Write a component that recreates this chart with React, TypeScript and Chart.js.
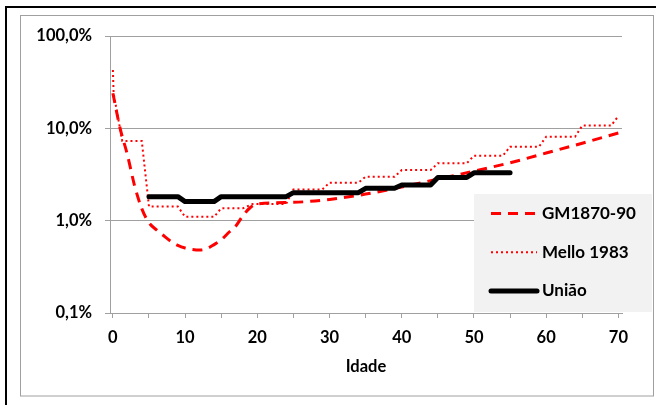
import React, { useEffect, useRef } from "react";
import { Chart, registerables } from "chart.js";

Chart.register(...registerables);

// ---- data (mortality rate, %) ----
const seriesLabels = ["GM1870-90", "Mello 1983", "União"];

const gmAges = [0, 1, 2, 3, 4, 5, 6, 7, 8, 9, 10, 11, 12, 13, 14, 15, 16, 17, 18, 19, 20, 25, 30, 35, 40, 45, 50, 55, 60, 65, 70];
const gmRates = [24.0, 10.0, 5.2, 2.4, 1.35, 0.95, 0.8, 0.69, 0.6, 0.54, 0.505, 0.487, 0.48, 0.497, 0.55, 0.62, 0.74, 0.87, 1.13, 1.38, 1.52, 1.58, 1.70, 1.94, 2.32, 2.82, 3.44, 4.24, 5.4, 6.9, 8.9];

const melloAges = [0, 0.1, 1.3, 4, 5, 9, 10, 14, 15, 18, 19.4, 24, 25, 29, 30, 34, 35, 39, 40, 44, 45, 49, 50, 54, 55, 59, 60, 64, 65, 69, 70];
const melloRates = [42.9, 24.0, 7.3, 7.3, 1.42, 1.42, 1.10, 1.10, 1.36, 1.36, 1.52, 1.52, 2.18, 2.18, 2.58, 2.58, 2.99, 2.99, 3.53, 3.53, 4.18, 4.18, 5.05, 5.05, 6.32, 6.32, 8.11, 8.11, 10.7, 10.7, 13.6];

const uniaoAges = [5, 9, 10, 14, 15, 24, 25, 34, 35, 39, 40, 44, 45, 49, 50, 55];
const uniaoRates = [1.82, 1.82, 1.61, 1.61, 1.82, 1.82, 2.01, 2.01, 2.24, 2.24, 2.43, 2.43, 2.94, 2.94, 3.30, 3.30];

const yTickValues = [0.1, 1, 10, 100];
const xTickValues = [0, 5, 10, 15, 20, 25, 30, 35, 40, 45, 50, 55, 60, 65, 70];
const xAxisTitle = "Idade";

const toPoints = (xs: number[], ys: number[]) => xs.map((x, i) => ({ x, y: ys[i] }));
const fmtPct = (v: number) => v.toFixed(1).replace(".", ",") + "%";

const FONT_FAMILY = "Lato";
const AXIS_GRAY = "#a0a0a0";

const framePlugin = {
  id: "frame",
  beforeDraw(chart: any) {
    const ctx = chart.ctx;
    ctx.save();
    ctx.fillStyle = "#ffffff";
    ctx.fillRect(0, 0, chart.width, chart.height);
    ctx.fillStyle = "#000000";
    ctx.fillRect(5, 6, chart.width - 5, 2);
    ctx.fillRect(5, 6, 2, chart.height - 6);
    ctx.strokeStyle = AXIS_GRAY;
    ctx.lineWidth = 1;
    ctx.strokeRect(20.5, 15.5, 633, 380.5);
    ctx.restore();
  },
};

const legendPlugin = {
  id: "boxLegend",
  afterDraw(chart: any) {
    const ctx = chart.ctx;
    ctx.save();
    ctx.fillStyle = "#f2f2f2";
    ctx.fillRect(474, 194, 178, 118);
    chart.data.datasets.forEach((ds: any, i: number) => {
      const y = 213.5 + i * 38.7;
      ctx.strokeStyle = ds.borderColor;
      ctx.lineWidth = ds.borderWidth;
      ctx.setLineDash(ds.borderDash || []);
      ctx.lineCap = ds.borderCapStyle || "butt";
      ctx.beginPath();
      ctx.moveTo(491, y);
      ctx.lineTo(537, y);
      ctx.stroke();
      ctx.setLineDash([]);
      ctx.fillStyle = "#000000";
      ctx.font = `bold 17px ${FONT_FAMILY}`;
      ctx.textBaseline = "middle";
      ctx.textAlign = "left";
      ctx.fillText(ds.label, 542, y);
    });
    ctx.restore();
  },
};

export default function App() {
  const canvasRef = useRef<HTMLCanvasElement | null>(null);

  useEffect(() => {
    if (!canvasRef.current) return;
    const font = { family: FONT_FAMILY, size: 16.5, weight: "bold" as const };
    const chart = new Chart(canvasRef.current, {
      type: "line",
      data: {
        datasets: [
          {
            label: seriesLabels[0],
            data: toPoints(gmAges, gmRates),
            borderColor: "#ff0000",
            borderWidth: 3,
            borderDash: [10, 7],
            pointRadius: 0,
            cubicInterpolationMode: "monotone",
            order: 3,
          },
          {
            label: seriesLabels[1],
            data: toPoints(melloAges, melloRates),
            borderColor: "#ff0000",
            borderWidth: 2,
            borderDash: [2, 3],
            pointRadius: 0,
            tension: 0,
            order: 2,
          },
          {
            label: seriesLabels[2],
            data: toPoints(uniaoAges, uniaoRates),
            borderColor: "#000000",
            borderWidth: 5,
            borderCapStyle: "round",
            borderJoinStyle: "round",
            pointRadius: 0,
            tension: 0,
            order: 1,
          },
        ] as any,
      },
      options: {
        responsive: false,
        devicePixelRatio: 1,
        animation: false,
        layout: { padding: { left: 0, top: 36, right: 34, bottom: 0 } },
        plugins: { legend: { display: false }, tooltip: { enabled: false } },
        scales: {
          x: {
            type: "linear",
            min: -0.4,
            max: 70.5,
            afterBuildTicks: (s: any) => {
              s.ticks = xTickValues.map((v) => ({ value: v }));
            },
            afterFit: (s: any) => {
              s.height = 92;
            },
            grid: { drawOnChartArea: false, color: AXIS_GRAY, tickLength: 5 },
            border: { color: AXIS_GRAY },
            ticks: {
              autoSkip: false,
              maxRotation: 0,
              padding: 10,
              color: "#000000",
              font,
              callback: (v: any) => (Number(v) % 10 === 0 ? String(v) : ""),
            },
            title: {
              display: true,
              text: xAxisTitle,
              color: "#000000",
              font,
              padding: { top: 4, bottom: 28 },
            },
          },
          y: {
            type: "logarithmic",
            min: 0.1,
            max: 100,
            afterBuildTicks: (s: any) => {
              s.ticks = yTickValues.map((v) => ({ value: v }));
            },
            afterFit: (s: any) => {
              s.width = 110;
            },
            grid: { color: AXIS_GRAY, tickLength: 5 },
            border: { color: AXIS_GRAY },
            ticks: {
              padding: 13,
              color: "#000000",
              font,
              callback: (v: any) => fmtPct(Number(v)),
            },
          },
        },
      },
      plugins: [framePlugin, legendPlugin],
    });
    return () => chart.destroy();
  }, []);

  return (
    <div style={{ position: "absolute", left: 0, top: 0, width: 656, height: 405 }}>
      <canvas ref={canvasRef} width={656} height={405} style={{ display: "block" }} />
    </div>
  );
}
